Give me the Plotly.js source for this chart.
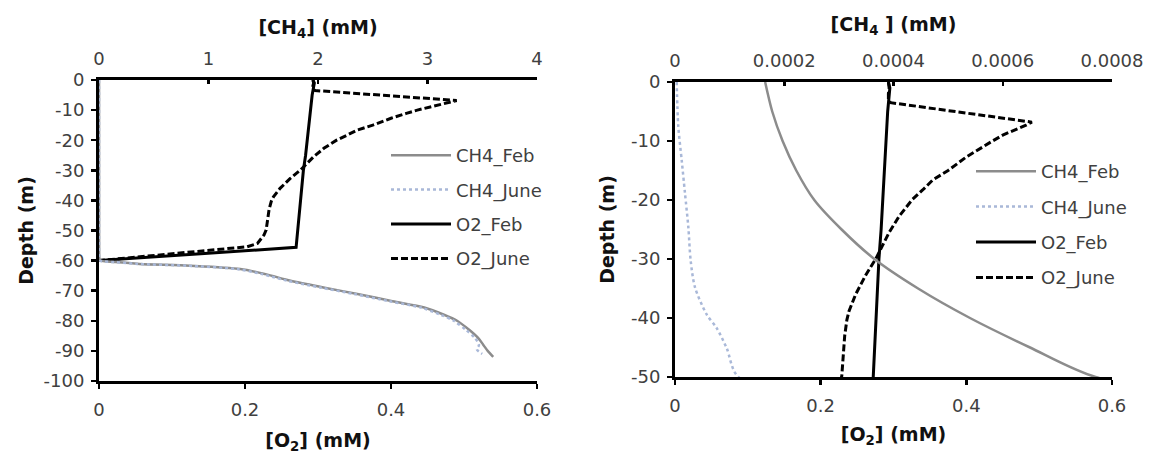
<!DOCTYPE html>
<html>
<head>
<meta charset="utf-8">
<script src="https://cdn.plot.ly/plotly-3.0.1.min.js"></script>
<style>html,body{margin:0;padding:0;background:#fff;}#chart{width:1149px;height:459px;}</style>
</head>
<body>
<div id="chart"></div>
<script>
// ---- Data (depth in m, concentrations in mM) ----
const seriesNames = ["CH4_Feb", "CH4_June", "O2_Feb", "O2_June"];

const depthCH4Feb = [0, -5, -10, -15, -20, -25, -30, -35, -40, -45, -50, -55, -59.5, -60, -60.5, -61.1, -61.7, -62.8, -64.5, -66.7, -69, -71.1, -73.5, -75.6, -78, -80, -83, -85.6, -88, -90, -92];
const ch4Feb = [0.000165, 0.000178, 0.000197, 0.000222, 0.000255, 0.000305, 0.000365, 0.000445, 0.00054, 0.00065, 0.00077, 0.0011, 0.004, 0.01, 0.15, 0.37, 0.83, 1.29, 1.52, 1.75, 2.06, 2.36, 2.68, 2.97, 3.15, 3.27, 3.38, 3.46, 3.51, 3.55, 3.60];

const depthCH4June = [0, -7.5, -13.2, -18.9, -24.6, -30.3, -34.8, -39.4, -41.7, -45.1, -50, -55, -59.5, -60, -60.5, -61.1, -61.7, -62.8, -64.5, -66.7, -69, -71.1, -73.5, -75.6, -78, -80, -83, -85.6, -88, -89.5, -91];
const ch4June = [0.0000031, 0.000006, 0.0000122, 0.0000183, 0.0000244, 0.0000287, 0.0000366, 0.000058, 0.0000763, 0.0000946, 0.000116, 0.0003, 0.002, 0.01, 0.14, 0.35, 0.80, 1.26, 1.49, 1.72, 2.03, 2.33, 2.65, 2.94, 3.12, 3.24, 3.35, 3.43, 3.47, 3.45, 3.50];

const depthO2Feb = [0, -1, -5, -10, -15, -20, -25, -30, -35, -40, -45, -50, -53, -55.6, -60];
const o2Feb = [0.293, 0.295, 0.292, 0.290, 0.288, 0.286, 0.283, 0.280, 0.278, 0.276, 0.274, 0.272, 0.271, 0.270, 0.0];

const depthO2June = [0, -1, -2, -3, -3.5, -4.6, -5.7, -6.3, -6.8, -7.3, -8.2, -9.0, -10.0, -11.1, -12.7, -15.0, -16.6, -18.3, -19.9, -22.7, -25.5, -27.7, -29.9, -32.7, -36.0, -38.8, -40.3, -43.0, -46.5, -49.8, -51.5, -54.3, -55.4, -60];
const o2June = [0.293, 0.294, 0.293, 0.293, 0.296, 0.360, 0.428, 0.465, 0.490, 0.482, 0.466, 0.450, 0.436, 0.421, 0.400, 0.375, 0.354, 0.340, 0.326, 0.308, 0.294, 0.285, 0.276, 0.262, 0.248, 0.239, 0.236, 0.233, 0.231, 0.229, 0.226, 0.217, 0.203, 0.0];

// ---- Tick labels ----
const depthTicksLeft = [0, -10, -20, -30, -40, -50, -60, -70, -80, -90, -100];
const depthLabelsLeft = ["0", "-10", "-20", "-30", "-40", "-50", "-60", "-70", "-80", "-90", "-100"];
const depthTicksRight = [0, -10, -20, -30, -40, -50];
const depthLabelsRight = ["0", "-10", "-20", "-30", "-40", "-50"];
const o2Ticks = [0, 0.2, 0.4, 0.6];
const o2Labels = ["0", "0.2", "0.4", "0.6"];
const ch4TicksLeft = [0, 1, 2, 3, 4];
const ch4LabelsLeft = ["0", "1", "2", "3", "4"];
const ch4TicksRight = [0, 0.0002, 0.0004, 0.0006, 0.0008];
const ch4LabelsRight = ["0", "0.0002", "0.0004", "0.0006", "0.0008"];

// ---- Styles ----
const FONT = "DejaVu Sans, Verdana, sans-serif";
const styles = {
  CH4_Feb: {color: "#8c8c8c", width: 2.5, dash: "solid", shape: "spline"},
  CH4_June: {color: "#a9b8d8", width: 2.5, dash: "dot", shape: "spline"},
  O2_Feb: {color: "#000000", width: 3, dash: "solid", shape: "linear"},
  O2_June: {color: "#000000", width: 3, dash: "7px,3px", shape: "linear"}
};

function panelTraces(xCH4, xO2, yax, legendName) {
  const data = [
    [ch4Feb, depthCH4Feb, xCH4, "CH4_Feb"],
    [ch4June, depthCH4June, xCH4, "CH4_June"],
    [o2Feb, depthO2Feb, xO2, "O2_Feb"],
    [o2June, depthO2June, xO2, "O2_June"]
  ];
  return data.map(([xs, ys, xa, name]) => ({
    type: "scatter", mode: "lines", x: xs, y: ys, xaxis: xa, yaxis: yax,
    name: name, legend: legendName, legendgroup: legendName + name,
    line: {color: styles[name].color, width: styles[name].width, dash: styles[name].dash,
           shape: styles[name].shape, smoothing: 0.8},
    hoverinfo: "skip"
  }));
}

const traces = [].concat(
  panelTraces("x2", "x", "y", "legend"),
  panelTraces("x4", "x3", "y2", "legend2")
);

const W = 1149, H = 459;
const L = {x0: 99, x1: 537, y0: 80, y1: 381};
const R = {x0: 675, x1: 1112, y0: 82, y1: 377};

const tickFont = {family: FONT, size: 18, color: "#404040"};
const titleFont = {family: FONT, size: 19, color: "#111", weight: "bold"};

function xBottom(dom, anchor, titleText, standoff) {
  return {
    domain: dom, anchor: anchor, range: [0, 0.6], tickvals: o2Ticks, ticktext: o2Labels,
    showline: true, linewidth: 3, linecolor: "#000", ticks: "outside", ticklen: 5, tickwidth: 2.5, tickcolor: "#000",
    showgrid: false, zeroline: false, tickfont: tickFont, ticklabelstandoff: 5,
    title: {text: titleText, font: titleFont, standoff: standoff}, fixedrange: true
  };
}
function xTop(overlay, anchor, range, vals, labels, titleText, standoff) {
  return {
    overlaying: overlay, anchor: anchor, side: "top", range: range, tickvals: vals, ticktext: labels,
    showline: true, linewidth: 3, linecolor: "#000", ticks: "inside", ticklen: 4, tickwidth: 2.5, tickcolor: "#000",
    showgrid: false, zeroline: false, tickfont: tickFont, ticklabelstandoff: 5,
    title: {text: titleText, font: titleFont, standoff: standoff}, fixedrange: true
  };
}
function yLeft(dom, anchor, range, vals, labels, standoff) {
  return {
    domain: dom, anchor: anchor, range: range, tickvals: vals, ticktext: labels,
    showline: true, linewidth: 3, linecolor: "#000", ticks: "outside", ticklen: 5, tickwidth: 2.5, tickcolor: "#000",
    showgrid: false, zeroline: false, tickfont: tickFont, ticklabelstandoff: 3, layer: "below traces",
    title: {text: "Depth (m)", font: titleFont, standoff: standoff}, fixedrange: true
  };
}

const legendFont = {family: FONT, size: 18, color: "#404040"};

const layout = {
  width: W, height: H,
  margin: {l: 0, r: 0, t: 0, b: 0},
  paper_bgcolor: "#fff", plot_bgcolor: "#fff",
  font: {family: FONT},
  xaxis: xBottom([L.x0 / W, L.x1 / W], "y", "[O<sub>2</sub>] (mM)", 16),
  xaxis2: xTop("x", "y", [0, 4], ch4TicksLeft, ch4LabelsLeft, "[CH<sub>4</sub>] (mM)", 9),
  xaxis3: xBottom([R.x0 / W, R.x1 / W], "y2", "[O<sub>2</sub>] (mM)", 14),
  xaxis4: xTop("x3", "y2", [0, 0.0008], ch4TicksRight, ch4LabelsRight, "[CH<sub>4</sub> ] (mM)", 14),
  yaxis: yLeft([1 - L.y1 / H, 1 - L.y0 / H], "x", [-100, 0], depthTicksLeft, depthLabelsLeft, 5),
  yaxis2: yLeft([1 - R.y1 / H, 1 - R.y0 / H], "x3", [-50, 0], depthTicksRight, depthLabelsRight, 12),
  showlegend: true,
  legend: {x: 386 / W, y: 1 - 137 / H, xanchor: "left", yanchor: "top", bgcolor: "rgba(0,0,0,0)",
           font: legendFont, tracegroupgap: 8, itemwidth: 60, traceorder: "grouped"},
  legend2: {x: 971 / W, y: 1 - 153 / H, xanchor: "left", yanchor: "top", bgcolor: "rgba(0,0,0,0)",
           font: legendFont, tracegroupgap: 9, itemwidth: 60, traceorder: "grouped"}
};

Plotly.newPlot("chart", traces, layout, {staticPlot: true, displayModeBar: false});
</script>
</body>
</html>
